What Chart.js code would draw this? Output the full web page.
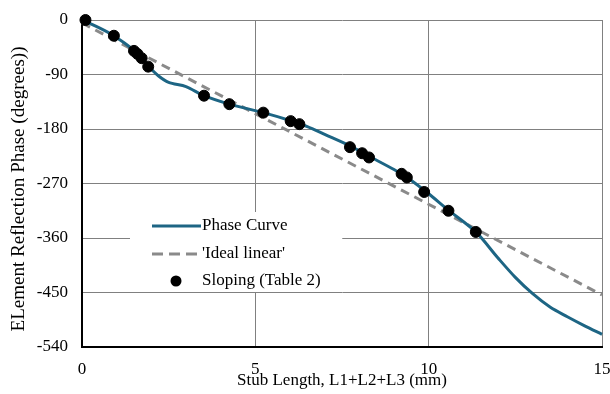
<!DOCTYPE html>
<html>
<head>
<meta charset="utf-8">
<script src="https://cdn.jsdelivr.net/npm/chart.js@4/dist/chart.umd.min.js"></script>
<style>
  html, body { margin: 0; padding: 0; background: #fff; }
  #myChart { display: block; }
</style>
</head>
<body>
<canvas id="myChart" width="610" height="394"></canvas>
<script>
// phase curve (stub length mm, phase deg)
const curveX = [0, 0.5, 0.92, 1.5, 1.72, 1.91, 2.2, 2.5, 3.0, 3.52, 4.25, 5.23, 6.0, 6.5, 7.0, 7.73, 8.28, 9.0, 9.5, 10.0, 10.57, 11.36, 12.0, 12.5, 13.0, 13.5, 14.0, 14.5, 15.0];
const curveY = [0, -13, -26, -50, -63, -76, -92, -103, -110, -125, -139, -153, -166, -176, -189, -208, -225, -247, -265, -287, -314, -350, -393, -425, -452, -474, -490, -505, -519];

// ideal linear
const idealX = [0, 15];
const idealY = [-5, -454];

// sloping (table 2)
const slopeX = [0.1, 0.92, 1.5, 1.6, 1.72, 1.91, 3.52, 4.25, 5.23, 6.02, 6.27, 7.73, 8.08, 8.28, 9.22, 9.37, 9.87, 10.57, 11.36];
const slopeY = [0, -26, -51, -56, -63, -77, -125, -139, -153, -167, -172, -210, -220, -227, -254, -260, -284, -315, -350];

const xTicks = [0, 5, 10, 15];
const yTicks = [0, -90, -180, -270, -360, -450, -540];

const yTitle = 'ELement Reflection Phase (degrees))';

const toPts = (xs, ys) => xs.map((x, i) => ({x: x, y: ys[i]}));

const FONT = "'Liberation Serif', 'Times New Roman', serif";

// legend inside the plot (white box) + y title
const extras = {
    id: 'extras',
    afterDraw(chart) {
        const c = chart.ctx;
        c.save();
        // y title, slightly stretched like the original
        c.font = '18px ' + FONT;
        const w = c.measureText(yTitle).width;
        c.translate(19, 189);
        c.rotate(-Math.PI / 2);
        c.scale(285 / w, 1);
        c.fillStyle = '#000';
        c.textAlign = 'center';
        c.textBaseline = 'middle';
        c.fillText(yTitle, 0, 0);
        c.restore();

        c.save();
        const bx = 130, by = 212;
        c.fillStyle = '#fff';
        c.fillRect(bx, by, 212, 80);
        c.font = '17px ' + FONT;
        c.textBaseline = 'middle';
        const rows = [226, 254, 281];
        chart.data.datasets.forEach((ds, i) => {
            const y = rows[i];
            if (ds.showLine) {
                c.strokeStyle = ds.borderColor;
                c.lineWidth = ds.borderWidth;
                c.setLineDash(ds.legendDash || []);
                c.beginPath();
                c.moveTo(152, y);
                c.lineTo(201, y);
                c.stroke();
                c.setLineDash([]);
            } else {
                c.fillStyle = ds.backgroundColor;
                c.beginPath();
                c.arc(176, y, 5.5, 0, Math.PI * 2);
                c.fill();
            }
            c.fillStyle = '#000';
            c.fillText(ds.label, 202, y);
        });
        c.restore();
    }
};

const ctx = document.querySelector("#myChart");
new Chart(ctx, {
    type: 'scatter',
    data: {
        datasets: [
            {
                label: 'Phase Curve',
                data: toPts(curveX, curveY),
                showLine: true,
                borderColor: '#1d6584',
                backgroundColor: '#1d6584',
                borderWidth: 3,
                pointRadius: 0,
                tension: 0.3,
                order: 2
            },
            {
                label: "'Ideal linear'",
                data: toPts(idealX, idealY),
                showLine: true,
                borderColor: '#8a8a8a',
                backgroundColor: '#8a8a8a',
                borderWidth: 3,
                borderDash: [9, 6],
                legendDash: [11, 6],
                pointRadius: 0,
                order: 3
            },
            {
                label: 'Sloping (Table 2)',
                data: toPts(slopeX, slopeY),
                showLine: false,
                backgroundColor: '#000',
                borderColor: '#000',
                pointRadius: 5.5,
                pointHoverRadius: 5.5,
                order: 1
            }
        ]
    },
    options: {
        responsive: false,
        animation: false,
        clip: false,
        layout: {
            padding: {left: 0, right: 8, top: 20, bottom: 0}
        },
        plugins: {
            legend: {display: false},
            tooltip: {enabled: false}
        },
        scales: {
            x: {
                type: 'linear',
                min: 0,
                max: 15,
                afterBuildTicks: (axis) => { axis.ticks = xTicks.map(v => ({value: v})); },
                afterFit: (axis) => { axis.height = 47; axis.paddingLeft = 0; axis.paddingRight = 0; },
                grid: {color: '#808080', lineWidth: 1, drawTicks: false},
                border: {color: '#000', width: 2},
                ticks: {
                    color: '#000',
                    padding: 12,
                    maxRotation: 0,
                    font: {family: FONT, size: 17}
                },
                title: {
                    display: true,
                    text: 'Stub Length, L1+L2+L3 (mm)',
                    color: '#000',
                    padding: {top: 0, bottom: 3},
                    font: {family: FONT, size: 17}
                }
            },
            y: {
                type: 'linear',
                min: -540,
                max: 0,
                afterBuildTicks: (axis) => { axis.ticks = yTicks.map(v => ({value: v})); },
                afterFit: (axis) => { axis.width = 82; axis.paddingTop = 0; axis.paddingBottom = 0; },
                grid: {color: '#808080', lineWidth: 1, drawTicks: false},
                border: {color: '#000', width: 2},
                ticks: {
                    color: '#000',
                    padding: 14,
                    font: {family: FONT, size: 17}
                }
            }
        }
    },
    plugins: [extras]
});
</script>
</body>
</html>
